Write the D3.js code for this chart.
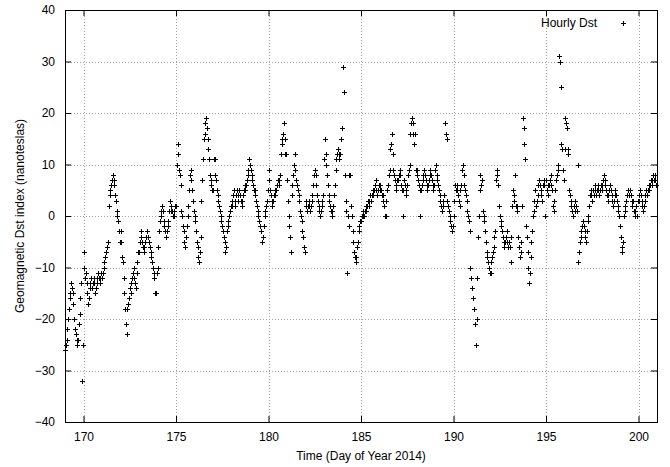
<!DOCTYPE html>
<html>
<head>
<meta charset="utf-8">
<script src="https://cdn.jsdelivr.net/npm/d3@7"></script>
<style>
  body { margin: 0; background: #fff; }
  text { font-family: "Liberation Sans", Arial, sans-serif; font-size: 12px; fill: #000; }
</style>
</head>
<body>
<div id="chart"></div>
<script>
// hourly Dst (nT), one array per day of year 2014, hour 0..23
const dst169 = [-26,-25,-24,-22,-20,-18,-16,-15,-13,-14,-15,-17,-20,-22,-23,-24,-25,-24,-21,-19,-16,-13,-32,-25];
const dst170 = [-7,-10,-12,-11,-13,-15,-17,-16,-14,-13,-12,-14,-13,-12,-13,-15,-14,-13,-12,-11,-12,-13,-12,-11];
const dst171 = [-12,-11,-10,-9,-8,-7,-6,-6,-5,2,4,5,6,7,8,7,6,4,3,1,0,-1,-3,-5];
const dst172 = [-3,-5,-8,-9,-12,-15,-18,-21,-23,-18,-17,-16,-14,-15,-13,-12,-11,-10,-12,-13,-14,-11,-9,-7];
const dst173 = [-7,-5,-3,-4,-5,-6,-7,-6,-5,-4,-3,-3,-4,-5,-6,-7,-8,-9,-10,-11,-12,-15,-15,-11];
const dst174 = [-10,-6,-3,-1,0,1,2,1,-1,-2,-3,-4,-3,-2,-1,1,3,2,1,1,0,0,1,2];
const dst175 = [2,10,12,14,9,8,6,1,0,-2,-3,-5,-6,-4,-2,0,2,5,8,9,7,5,3,1];
const dst176 = [0,-1,-3,-5,-6,-8,-9,-7,-4,3,7,11,15,16,18,19,17,15,13,11,8,7,6,5];
const dst177 = [5,11,11,8,7,5,4,3,2,1,0,-1,-2,-3,-4,-5,-7,-6,-3,-2,-1,0,1,2];
const dst178 = [2,3,4,5,3,2,4,5,3,4,5,4,3,2,3,4,5,6,5,6,7,8,9,11];
const dst179 = [10,9,8,7,6,5,5,4,3,2,1,0,-1,-2,-3,-5,-5,-4,-2,0,1,2,3,5];
const dst180 = [9,7,5,4,3,2,3,4,5,4,5,6,7,6,7,8,12,14,15,16,18,15,12,12];
const dst181 = [7,3,0,-2,-4,-7,4,6,8,10,12,9,7,6,5,4,3,1,0,-1,-3,-4,-6,-7];
const dst182 = [3,2,1,2,3,2,1,2,3,4,6,8,9,8,6,4,3,2,1,0,1,2,3,4];
const dst183 = [11,15,12,10,8,6,4,3,2,1,0,1,2,4,6,9,11,12,13,12,11,12,15,17];
const dst184 = [29,29,24,8,3,1,-11,0,-2,8,8,2,0,-3,-5,-7,-8,-9,-8,-6,-5,-3,-2,-1];
const dst185 = [-1,0,1,0,0,1,1,2,2,3,2,3,4,3,4,5,4,5,6,7,5,4,5,6];
const dst186 = [5,6,5,4,3,4,2,0,0,3,5,6,8,9,13,14,16,12,9,8,7,6,5,7];
const dst187 = [7,8,9,8,6,5,0,5,7,6,5,4,6,8,9,10,16,18,19,18,16,14,16,9];
const dst188 = [9,8,7,6,5,0,5,6,7,8,9,8,7,6,5,6,7,8,9,8,7,6,5,6];
const dst189 = [9,10,8,7,6,5,4,3,2,1,2,3,4,18,16,15,3,2,1,0,-1,-2,-3,-2];
const dst190 = [0,3,6,5,6,5,4,3,2,5,6,9,10,8,6,5,4,3,1,0,-1,-3,-10,-12];
const dst191 = [-14,-16,-18,-18,-21,-25,-20,-12,-4,0,5,8,6,7,1,0,-1,-3,-5,-7,-8,-9,-10,-11];
const dst192 = [-11,-9,-8,-7,-6,-4,-3,7,9,8,6,2,0,-1,-2,-3,-4,-5,-6,-5,-4,-3,-5,-6];
const dst193 = [-5,-6,-9,-4,2,5,4,3,8,2,2,1,-4,-6,-8,-7,-5,2,19,17,14,11,-2,-4];
const dst194 = [-7,-10,-13,-11,-8,-5,-3,0,1,3,5,2,3,4,6,7,6,5,4,3,6,7,6,0];
const dst195 = [7,5,6,4,6,7,8,6,5,2,1,3,5,7,8,9,10,31,30,25,14,13,9,7];
const dst196 = [13,19,18,17,13,12,5,4,3,2,1,0,2,3,1,2,1,10,-9,-7,-5,-4,-3,-2];
const dst197 = [-1,-2,-3,-4,-5,-3,-1,0,2,4,5,4,3,5,4,5,6,4,5,6,5,4,5,6];
const dst198 = [5,6,7,8,7,6,5,4,3,4,5,6,5,4,3,2,3,4,5,4,3,2,1,0];
const dst199 = [-2,-4,-6,-7,-5,0,1,2,3,4,5,5,4,5,4,3,2,3,1,0,1,2,0,3];
const dst200 = [3,4,5,4,3,2,1,2,3,4,5,4,5,6,5,6,7,6,7,8,7,8,7,6];

const days = [169,170,171,172,173,174,175,176,177,178,179,180,181,182,183,184,185,186,187,188,189,190,191,192,193,194,195,196,197,198,199,200];
const dayValues = [dst169,dst170,dst171,dst172,dst173,dst174,dst175,dst176,dst177,dst178,dst179,dst180,dst181,dst182,dst183,dst184,dst185,dst186,dst187,dst188,dst189,dst190,dst191,dst192,dst193,dst194,dst195,dst196,dst197,dst198,dst199,dst200];

const xTicks = [170,175,180,185,190,195,200];
const yTicks = [-40,-30,-20,-10,0,10,20,30,40];

const points = [];
days.forEach((day, i) => {
    dayValues[i].forEach((v, h) => points.push({t: day + h / 24, v: v}));
});

const width = 670, height = 467;
const plotLeft = 65, plotRight = 657, plotTop = 10, plotBottom = 422;

const x = d3.scaleLinear().domain([169, 201]).range([plotLeft, plotRight]);
const y = d3.scaleLinear().domain([-40, 40]).range([plotBottom, plotTop]);

const svg = d3.select("#chart").append("svg")
    .attr("width", width)
    .attr("height", height);

// grid
svg.append("g")
    .selectAll("line")
    .data(xTicks)
    .join("line")
    .attr("x1", d => Math.round(x(d)) + 0.5).attr("x2", d => Math.round(x(d)) + 0.5)
    .attr("y1", plotTop).attr("y2", plotBottom)
    .attr("stroke", "#a0a0a0")
    .attr("stroke-dasharray", "1,2");

svg.append("g")
    .selectAll("line")
    .data(yTicks.slice(1, -1))
    .join("line")
    .attr("y1", d => Math.round(y(d)) + 0.5).attr("y2", d => Math.round(y(d)) + 0.5)
    .attr("x1", plotLeft).attr("x2", plotRight)
    .attr("stroke", "#a0a0a0")
    .attr("stroke-dasharray", "1,2");

// axes, gnuplot style: inward ticks mirrored
svg.append("g")
    .attr("transform", `translate(0,${plotBottom})`)
    .call(d3.axisBottom(x).tickValues(xTicks).tickSize(-6).tickPadding(10).tickFormat(d3.format("d")));
svg.append("g")
    .attr("transform", `translate(0,${plotTop})`)
    .call(d3.axisTop(x).tickValues(xTicks).tickSize(-6).tickFormat(""));
svg.append("g")
    .attr("transform", `translate(${plotLeft},0)`)
    .call(d3.axisLeft(y).tickValues(yTicks).tickSize(-6).tickPadding(10).tickFormat(d3.format("d")));
svg.append("g")
    .attr("transform", `translate(${plotRight},0)`)
    .call(d3.axisRight(y).tickValues(yTicks).tickSize(-6).tickFormat(""));

svg.selectAll(".domain").remove();
svg.selectAll(".tick line").attr("stroke", "#000");
svg.selectAll(".tick text")
    .style("font-family", "'Liberation Sans', Arial, sans-serif")
    .style("font-size", "12px")
    .attr("fill", "#000");

svg.append("rect")
    .attr("x", plotLeft + 0.5).attr("y", plotTop + 0.5)
    .attr("width", plotRight - plotLeft).attr("height", plotBottom - plotTop)
    .attr("fill", "none")
    .attr("stroke", "#000");

// points
const cross = "M-2.5,0H2.5M0,-2.5V2.5";
svg.append("g")
    .attr("stroke", "#000")
    .attr("stroke-width", 1)
    .attr("fill", "none")
    .selectAll("path")
    .data(points)
    .join("path")
    .attr("d", cross)
    .attr("transform", d => `translate(${Math.round(x(d.t)) + 0.5},${Math.round(y(d.v)) + 0.5})`);

// legend
svg.append("text")
    .attr("x", 597).attr("y", 27)
    .attr("text-anchor", "end")
    .text("Hourly Dst");
svg.append("path")
    .attr("d", cross)
    .attr("stroke", "#000")
    .attr("transform", "translate(623.5,23.5)");

// labels
svg.append("text")
    .attr("x", (plotLeft + plotRight) / 2).attr("y", 460)
    .attr("text-anchor", "middle")
    .text("Time (Day of Year 2014)");
svg.append("text")
    .attr("transform", `translate(24,${(plotTop + plotBottom) / 2}) rotate(-90)`)
    .attr("text-anchor", "middle")
    .text("Geomagnetic Dst index (nanoteslas)");
</script>
</body>
</html>
